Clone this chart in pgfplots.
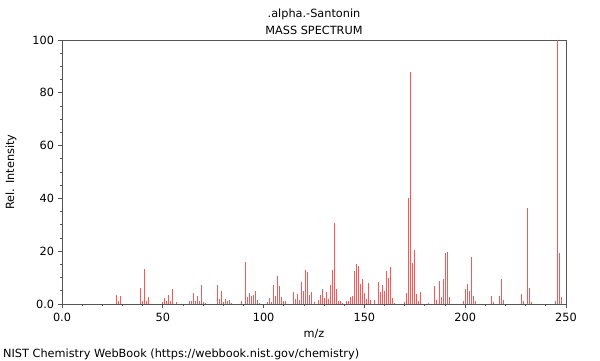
\documentclass[border=0pt]{standalone}
\usepackage{fontspec}
\setmainfont{DejaVu Sans}
\usepackage{pgfplots}
\pgfplotsset{compat=1.18}
\definecolor{barred}{RGB}{255,85,85}
\definecolor{axgray}{RGB}{85,85,85}
\begin{document}
\fontsize{11.3bp}{13bp}\selectfont
\begin{tikzpicture}[x=1bp,y=1bp]
\path[use as bounding box] (0,0) rectangle (600,360);
\begin{axis}[
  at={(62bp,56bp)}, anchor=south west,
  scale only axis, width=504bp, height=264bp,
  xmin=0, xmax=250, ymin=0, ymax=100,
  axis line style={axgray, line width=0.8bp},
  xtick={0,50,100,150,200,250},
  xticklabels={0.0,50,100,150,200,250},
  ytick={0,20,40,60,80,100},
  yticklabels={0.0,20,40,60,80,100},
  minor x tick num=4, minor y tick num=3,
  tick align=outside, xtick pos=lower, ytick pos=left,
  major tick length=4bp, minor tick length=2bp,
  every tick/.style={axgray, line width=0.8bp},
  tick label style={font=\fontsize{11.3bp}{13bp}\selectfont},
  xticklabel style={yshift=-1bp},
  clip=false,
]
\addplot[ycomb, no markers, draw=barred, line width=1bp] table {
m I
27 3.5
28 1.0
29 3.0
39 5.9
40 1.0
41 13.1
42 1.0
43 2.6
50 0.7
51 2.4
52 1.0
53 3.3
54 1.0
55 5.7
57 0.7
63 1.3
64 1.0
65 4.2
66 1.0
67 3.0
68 1.0
69 7.2
70 0.6
71 0.5
77 7.2
78 1.9
79 4.9
80 0.8
81 1.9
82 1.0
83 1.6
84 0.5
89 1.1
91 15.9
92 2.6
93 4.2
94 3.2
95 3.4
96 5.1
97 1.5
98 0.5
102 0.9
103 2.1
104 0.9
105 7.3
106 3.0
107 10.6
108 6.9
109 2.5
110 1.3
111 1.3
115 4.4
116 1.8
117 3.8
118 1.5
119 8.3
120 4.9
121 12.7
122 12.0
123 3.5
124 4.4
125 0.8
127 1.5
128 3.5
129 5.5
130 2.3
131 4.5
132 1.8
133 7.1
134 12.7
135 30.6
136 5.5
137 1.0
138 1.0
139 0.5
141 1.3
142 1.0
143 2.5
144 3.0
145 12.4
146 15.0
147 14.3
148 7.5
149 9.3
150 4.2
151 1.8
152 8.0
153 1.5
155 1.5
157 8.2
158 4.5
159 7.3
160 4.8
161 12.4
162 9.8
163 14.1
164 2.4
165 0.5
170 0.9
171 4.2
172 40.0
173 87.7
174 15.4
175 20.5
176 3.8
177 1.0
178 4.5
182 0.5
185 6.8
186 1.5
187 8.7
188 2.6
189 9.5
190 19.3
191 19.7
192 2.8
199 1.1
200 5.8
201 7.4
202 4.9
203 17.8
204 3.2
205 1.0
213 2.9
214 0.7
217 2.9
218 9.5
219 1.5
228 3.6
229 1.2
231 36.2
232 6.2
233 0.8
245 1.1
246 100
247 19.3
248 2.5
};
\end{axis}
\node[anchor=base] at (314,343) {.alpha.-Santonin};
\node[anchor=base] at (314,326) {MASS SPECTRUM};
\node[anchor=base] at (314,23) {m/z};
\node[rotate=90] at (11,188) {Rel. Intensity};
\node[anchor=base west, inner sep=0pt] at (3,3) {\fontsize{11.3bp}{13bp}\selectfont NIST Chemistry WebBook (https://webbook.nist.gov/chemistry)};
\end{tikzpicture}
\end{document}
